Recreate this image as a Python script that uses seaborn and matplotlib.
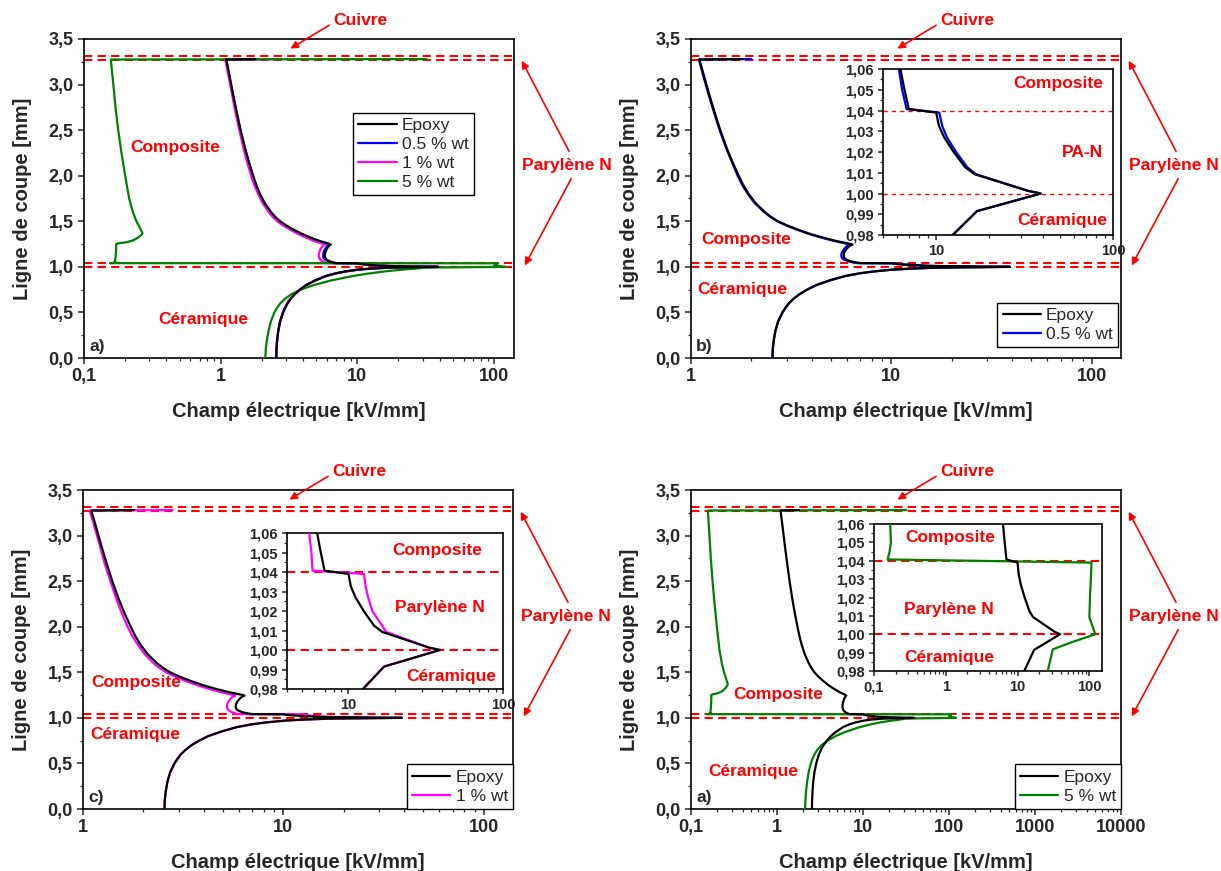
import matplotlib
matplotlib.use("Agg")
import matplotlib.pyplot as plt
import seaborn as sns
from matplotlib.ticker import FuncFormatter, MultipleLocator, LogLocator, NullFormatter

# ---- data: position along the cut line [mm] vs field [kV/mm] ----
# ceramic (0 -> 1.0), parylene N (1.0 -> 1.04), composite (1.04 -> 3.28), copper spike
pos_epoxy = [0.00, 0.10, 0.20, 0.30, 0.40, 0.50, 0.55, 0.60, 0.65, 0.70, 0.75, 0.80,
             0.85, 0.90, 0.93, 0.95, 0.97, 0.98, 0.9915, 0.9973, 1.000,
             1.0013, 1.0093, 1.0126, 1.0198, 1.027, 1.0327, 1.039, 1.0407, 1.0504, 1.06,
             1.08, 1.10, 1.12, 1.15, 1.18, 1.21, 1.23, 1.245, 1.26, 1.28, 1.30, 1.33,
             1.36, 1.40, 1.45, 1.50, 1.55, 1.60, 1.70, 1.80, 1.90, 2.00, 2.15, 2.30,
             2.50, 2.70, 2.90, 3.10, 3.275, 3.28]
e_epoxy = [2.55, 2.56, 2.59, 2.64, 2.72, 2.86, 2.96, 3.08, 3.25, 3.48, 3.80, 4.22,
           4.90, 5.90, 7.00, 8.20, 10.2, 12.4, 17.0, 30.0, 39.0,
           33.0, 16.5, 14.6, 12.6, 11.1, 10.35, 10.0, 7.0, 6.6, 6.27,
           5.95, 5.82, 5.78, 5.80, 5.90, 6.05, 6.20, 6.40, 6.00, 5.40, 4.95, 4.40,
           3.95, 3.50, 3.05, 2.72, 2.50, 2.34, 2.10, 1.94, 1.82, 1.73, 1.61, 1.51,
           1.40, 1.31, 1.23, 1.16, 1.10, 1.80]

pos_05 = pos_epoxy
e_05 = [2.55, 2.56, 2.59, 2.64, 2.72, 2.86, 2.96, 3.08, 3.25, 3.48, 3.80, 4.22,
        4.90, 5.90, 7.00, 8.20, 10.2, 12.4, 17.0, 30.0, 39.0,
        33.0, 16.8, 15.0, 13.0, 11.5, 10.8, 10.4, 6.8, 6.4, 6.15,
        5.80, 5.66, 5.62, 5.64, 5.74, 5.88, 6.02, 6.20, 5.82, 5.28, 4.86, 4.33,
        3.90, 3.46, 3.02, 2.69, 2.48, 2.32, 2.08, 1.92, 1.80, 1.71, 1.60, 1.50,
        1.39, 1.30, 1.22, 1.15, 1.095, 2.0]

pos_1 = pos_epoxy
e_1 = [2.55, 2.56, 2.59, 2.64, 2.72, 2.86, 2.96, 3.08, 3.25, 3.48, 3.80, 4.22,
       4.90, 5.90, 7.00, 8.20, 10.2, 12.4, 17.0, 30.0, 39.0,
       33.0, 17.5, 16.5, 14.3, 13.4, 12.9, 12.6, 5.85, 5.75, 5.56,
       5.35, 5.25, 5.22, 5.24, 5.32, 5.45, 5.58, 5.75, 5.40, 4.92, 4.55, 4.08,
       3.70, 3.30, 2.90, 2.60, 2.40, 2.25, 2.03, 1.88, 1.76, 1.67, 1.56, 1.47,
       1.37, 1.28, 1.21, 1.14, 1.08, 2.8]

pos_5 = [0.00, 0.10, 0.20, 0.30, 0.40, 0.50, 0.55, 0.60, 0.65, 0.70, 0.75, 0.80,
         0.85, 0.90, 0.93, 0.95, 0.97, 0.98, 0.9918, 0.996, 1.000,
         1.0093, 1.02, 1.03, 1.039, 1.0407,
         1.045, 1.05, 1.06, 1.10, 1.15, 1.20, 1.25, 1.26, 1.27, 1.29, 1.32, 1.35,
         1.37, 1.40, 1.45, 1.50, 1.60, 1.75, 2.00, 2.25, 2.50, 2.75, 3.00, 3.275, 3.28]
e_5 = [2.12, 2.14, 2.18, 2.24, 2.33, 2.47, 2.58, 2.73, 2.95, 3.30, 3.85, 4.80,
       6.40, 9.30, 12.5, 15.8, 21.5, 26.3, 31.0, 60.0, 121.0,
       100.0, 102.0, 105.0, 107.0, 0.155,
       0.165, 0.172, 0.168, 0.170, 0.171, 0.172, 0.172, 0.180, 0.205, 0.228, 0.248, 0.263,
       0.268, 0.262, 0.252, 0.242, 0.228, 0.214, 0.200, 0.188, 0.178, 0.170, 0.164, 0.157, 32.0]

series = {
    "Epoxy": (pos_epoxy, e_epoxy, "#000000"),
    "0.5 % wt": (pos_05, e_05, "#0000ff"),
    "1 % wt": (pos_1, e_1, "#ff00ff"),
    "5 % wt": (pos_5, e_5, "#008000"),
}

layer_lines_main = [1.0, 1.04, 3.265, 3.315]
layer_lines_inset = [1.0, 1.04]

RED = "#ff0000"

sns.set_style("ticks")
plt.rcParams["font.family"] = ["Liberation Sans", "DejaVu Sans"]
plt.rcParams["axes.linewidth"] = 1.2
plt.rcParams["axes.edgecolor"] = "black"


def comma_fmt(decimals=None):
    if decimals is None:
        return FuncFormatter(lambda v, _: f"{v:g}".replace(".", ","))
    return FuncFormatter(lambda v, _: f"{v:.{decimals}f}".replace(".", ","))


def draw_curves(ax, names, legend=True):
    for name in names:
        pos, e, color = series[name]
        sns.lineplot(x=e, y=pos, sort=False, estimator=None, color=color, lw=1.6,
                     label=name if legend else None, legend=False, ax=ax,
                     zorder=4 if name == "Epoxy" else 3)  # Epoxy drawn on top


def style_log_x(ax, xlim, fs, major_len, minor_len):
    ax.set_xscale("log")
    ax.set_xlim(*xlim)
    ax.xaxis.set_major_locator(LogLocator(base=10, numticks=12))
    ax.xaxis.set_minor_locator(LogLocator(base=10, subs=range(2, 10), numticks=12))
    ax.xaxis.set_major_formatter(comma_fmt())
    ax.xaxis.set_minor_formatter(NullFormatter())
    ax.tick_params(axis="both", which="major", length=major_len, width=1.1, labelsize=fs, pad=3)
    ax.tick_params(axis="both", which="minor", length=minor_len, width=0.9)
    for lab in ax.get_xticklabels() + ax.get_yticklabels():
        lab.set_fontweight("bold")
    for sp in ax.spines.values():
        sp.set_visible(True)
        sp.set_color("black")


def main_panel(rect, names, xlim, tag, comp_xy, cera_xy, legend_kw):
    ax = fig.add_axes(rect)
    draw_curves(ax, names)
    for y in layer_lines_main:
        ax.axhline(y, color=RED, lw=1.5, dashes=(4, 2.5), zorder=2)
    ax.set_ylim(0, 3.5)
    ax.yaxis.set_major_locator(MultipleLocator(0.5))
    ax.yaxis.set_minor_locator(MultipleLocator(0.25))
    ax.yaxis.set_major_formatter(comma_fmt(1))
    style_log_x(ax, xlim, 13, 4.5, 2.5)
    ax.set_xlabel("Champ électrique [kV/mm]", fontsize=14.5, fontweight="bold", labelpad=12)
    ax.set_ylabel("Ligne de coupe [mm]", fontsize=14.5, fontweight="bold", labelpad=12)

    lbl = dict(color=RED, fontsize=12.5, fontweight="bold", transform=ax.transAxes)
    ax.text(*comp_xy, "Composite", ha="center", va="center", **lbl)
    ax.text(*cera_xy, "Céramique", ha="center", va="center", **lbl)
    ax.text(0.012, 0.035, tag, ha="left", va="center", fontsize=12.5, fontweight="bold",
            transform=ax.transAxes)

    # layer annotations outside the frame
    ax.text(0.58, 1.057, "Cuivre", ha="left", va="center", clip_on=False, **lbl)
    ax.text(1.018, 0.603, "Parylène N", ha="left", va="center", clip_on=False, **lbl)
    arrow = dict(arrowstyle="-|>", color=RED, lw=1.2, mutation_scale=11, shrinkA=0, shrinkB=0)
    for tail, head in [((0.57, 1.043), (0.48, 0.97)),
                       ((1.128, 0.648), (1.018, 0.932)),
                       ((1.133, 0.562), (1.025, 0.29))]:
        ax.annotate("", xy=head, xytext=tail, xycoords="axes fraction",
                    textcoords="axes fraction", arrowprops=arrow, annotation_clip=False)

    handles, labels = ax.get_legend_handles_labels()
    order = sorted(range(len(labels)), key=lambda i: list(series).index(labels[i]))
    leg = ax.legend([handles[i] for i in order], [labels[i] for i in order],
                    fontsize=12.5, frameon=True, fancybox=False, framealpha=1,
                    edgecolor="black", handlelength=2.2, handletextpad=0.3,
                    labelspacing=0.22, borderpad=0.3, borderaxespad=0, **legend_kw)
    leg.get_frame().set_linewidth(1.0)
    return ax


def inset_panel(rect, names, xlim, texts, dash_kw):
    ax = fig.add_axes(rect)
    draw_curves(ax, names, legend=False)
    for y in layer_lines_inset:
        ax.axhline(y, color=RED, zorder=2, **dash_kw)
    ax.set_ylim(0.98, 1.06)
    ax.yaxis.set_major_locator(MultipleLocator(0.01))
    ax.yaxis.set_minor_locator(MultipleLocator(0.005))
    ax.yaxis.set_major_formatter(comma_fmt(2))
    style_log_x(ax, xlim, 10.5, 3.5, 2)
    ax.set_xlabel("")
    ax.set_ylabel("")
    for (x, y, s) in texts:
        ax.text(x, y, s, ha="center", va="center", color=RED, fontsize=12.5,
                fontweight="bold", transform=ax.transAxes)
    return ax


fig = plt.figure(figsize=(12.21, 8.71), dpi=100)

W, H = 430 / 1221, 319 / 871
main_panel([84 / 1221, 513 / 871, W, H], ["0.5 % wt", "1 % wt", "5 % wt", "Epoxy"],
           (0.1, 140), "a)", (0.212, 0.661), (0.277, 0.122),
           dict(loc="upper left", bbox_to_anchor=(0.626, 0.768)))
main_panel([691 / 1221, 513 / 871, W, H], ["0.5 % wt", "Epoxy"],
           (1, 140), "b)", (0.128, 0.373), (0.119, 0.216),
           dict(loc="lower right", bbox_to_anchor=(0.993, 0.034)))
main_panel([83 / 1221, 62 / 871, W, H], ["1 % wt", "Epoxy"],
           (1, 140), "c)", (0.123, 0.395), (0.121, 0.232),
           dict(loc="lower right", bbox_to_anchor=(1.0, 0.0)))
main_panel([691 / 1221, 62 / 871, W, H], ["5 % wt", "Epoxy"],
           (0.1, 10000), "a)", (0.202, 0.36), (0.144, 0.116),
           dict(loc="lower right", bbox_to_anchor=(1.0, 0.0)))

inset_panel([883 / 1221, 636 / 871, 230 / 1221, 166 / 871], ["0.5 % wt", "Epoxy"],
            (5, 100), [(0.76, 0.91, "Composite"), (0.865, 0.494, "PA-N"),
                       (0.78, 0.09, "Céramique")],
            dict(lw=1.0, dashes=(3, 3)))
inset_panel([287 / 1221, 182 / 871, 216 / 1221, 156 / 871], ["1 % wt", "Epoxy"],
            (4, 100), [(0.695, 0.885, "Composite"), (0.71, 0.52, "Parylène N"),
                       (0.76, 0.083, "Céramique")],
            dict(lw=1.5, dashes=(4, 2.5)))
inset_panel([874 / 1221, 200 / 871, 228 / 1221, 147 / 871], ["5 % wt", "Epoxy"],
            (0.1, 150), [(0.333, 0.91, "Composite"), (0.33, 0.42, "Parylène N"),
                         (0.33, 0.09, "Céramique")],
            dict(lw=1.5, dashes=(4, 2.5)))

fig.savefig("out.png", dpi=100)
